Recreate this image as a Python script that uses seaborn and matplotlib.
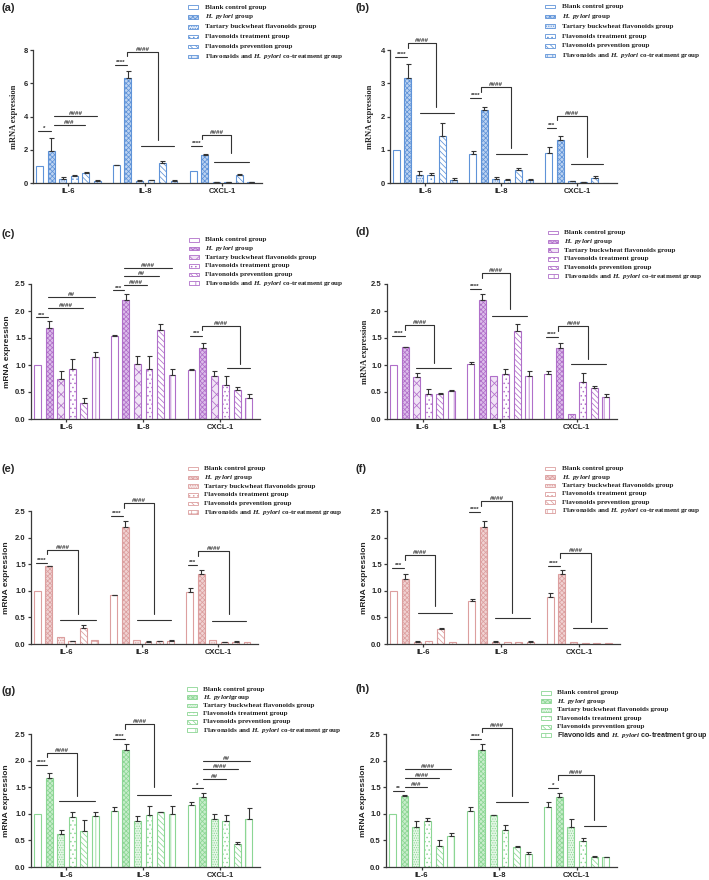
import matplotlib
matplotlib.use("Agg")
import matplotlib.pyplot as plt
from matplotlib.patches import Rectangle
import pandas as pd
import seaborn as sns

# ==============================================================================
# DATA (mean / SD, rows = gene, cols = group)
# ==============================================================================
GENES = ["IL-6", "IL-8", "CXCL-1"]
GROUPS = ["Blank control group", "H. pylori group", "Tartary buckwheat flavonoids group",
          "Flavonoids treatment group", "Flavonoids prevention group",
          "Flavonoids and H. pylori co-treatment group"]

LEGEND_LABELS = ["Blank control group", r"$\it{H.\ pylori}$ group",
                 "Tartary buckwheat flavonoids group", "Flavonoids treatment group",
                 "Flavonoids prevention group",
                 r"Flavonoids and $\it{H.\ pylori}$ co-treatment group"]
LEGEND_LABELS_G = ["Blank control group", r"$\it{H.\ pylori}$group",
                   "Tartary buckwheat flavonoids group", "Flavonoids treatment group",
                   "Flavonoids prevention group",
                   r"Flavonoids and $\it{H.\ pylori}$ co-treatment group"]

A_MEAN = [[1.00, 1.94, 0.26, 0.44, 0.58, 0.14], [1.06, 6.34, 0.14, 0.16, 1.22, 0.14], [0.74, 1.66, 0.06, 0.04, 0.46, 0.04]]
A_SD = [[0, 0.76, 0.08, 0.04, 0.10, 0.03], [0.02, 0.40, 0.03, 0.02, 0.12, 0.03], [0, 0.10, 0.02, 0.01, 0.08, 0.01]]

B_MEAN = [[1.00, 3.17, 0.25, 0.24, 1.42, 0.10], [0.88, 2.20, 0.13, 0.10, 0.40, 0.10], [0.90, 1.30, 0.05, 0.02, 0.15, 0.01]]
B_SD = [[0, 0.40, 0.12, 0.05, 0.38, 0.04], [0.07, 0.10, 0.05, 0.02, 0.04, 0.03], [0.17, 0.10, 0.02, 0.01, 0.05, 0]]

C_MEAN = [[1.00, 1.68, 0.74, 0.92, 0.29, 1.14], [1.53, 2.21, 1.01, 0.93, 1.64, 0.82], [0.90, 1.31, 0.80, 0.63, 0.54, 0.38]]
C_SD = [[0, 0.13, 0.14, 0.20, 0.10, 0.10], [0.02, 0.11, 0.15, 0.24, 0.11, 0.10], [0.02, 0.09, 0.08, 0.16, 0.06, 0.08]]

D_MEAN = [[1.00, 1.33, 0.77, 0.46, 0.46, 0.51], [1.02, 2.21, 0.79, 0.83, 1.63, 0.80], [0.84, 1.31, 0.10, 0.68, 0.58, 0.40]]
D_SD = [[0, 0.01, 0.09, 0.09, 0.03, 0.03], [0.04, 0.11, 0, 0.10, 0.12, 0.08], [0.04, 0.09, 0, 0.17, 0.04, 0.07]]

E_MEAN = [[1.00, 1.46, 0.14, 0.05, 0.31, 0.07], [0.92, 2.20, 0.07, 0.04, 0.05, 0.06], [0.98, 1.31, 0.07, 0.03, 0.04, 0.04]]
E_SD = [[0, 0.01, 0, 0.01, 0.05, 0], [0.01, 0.11, 0, 0.01, 0.01, 0.01], [0.08, 0.09, 0, 0.01, 0.01, 0]]

F_MEAN = [[1.00, 1.23, 0.04, 0.06, 0.28, 0.04], [0.81, 2.20, 0.04, 0.04, 0.04, 0.04], [0.89, 1.31, 0.04, 0.02, 0.02, 0.02]]
F_SD = [[0, 0.09, 0.01, 0, 0.03, 0], [0.03, 0.12, 0.01, 0, 0, 0.02], [0.06, 0.09, 0, 0, 0, 0]]

G_MEAN = [[1.00, 1.68, 0.62, 0.94, 0.67, 0.95], [1.06, 2.20, 0.86, 0.97, 1.03, 1.00], [1.16, 1.31, 0.90, 0.86, 0.43, 0.90]]
G_SD = [[0, 0.08, 0.08, 0.10, 0.21, 0.08], [0.06, 0.12, 0.10, 0.17, 0.01, 0.14], [0.07, 0.09, 0.10, 0.12, 0.04, 0.20]]

H_MEAN = [[1.00, 1.34, 0.76, 0.86, 0.40, 0.58], [1.06, 2.20, 0.97, 0.69, 0.38, 0.25], [1.12, 1.31, 0.76, 0.48, 0.19, 0.18]]
H_SD = [[0, 0.01, 0.10, 0.06, 0.11, 0.06], [0.06, 0.12, 0.01, 0.10, 0.01, 0.04], [0.10, 0.09, 0.14, 0.06, 0.01, 0.01]]

# ==============================================================================
# STYLE
# ==============================================================================
W, H = 709, 880
SLOT = 0.9 / 6
LINE_C = "#333333"

BLUE, PURPLE, PINK, GREEN = "#5f93d8", "#b06fc9", "#dc9f9f", "#8cd694"
TINT = {BLUE: "#bcd3f1", PURPLE: "#dcbdea", PINK: "#f0d2d2", GREEN: "#c8edcc"}
PALE = {BLUE: "#e2ecfa", PURPLE: "#f1e4f6", PINK: "#f8e9e9", GREEN: "#e5f7e7"}

DIAG = "\\\\\\\\\\\\"
HATCH_AB = ["", "xxxxxxx", ".......", "....", DIAG, "+++"]
HATCH_CD = ["", "xxxxxxx", "xxx", "....", DIAG, "||"]
HATCH_EF = ["", "xxxxxxx", ".......", "....", DIAG, "+++"]
HATCH_GH = ["", "xxxxxxx", ".......", "....", DIAG, "||"]

# annotations: ("L", gene, j0, j1, y, txt) line; ("B", gene, jL, jR, top, drop, txt); ("F", gene, j0, j1, y)
PANELS = {
    "a": dict(mean=A_MEAN, sd=A_SD, color=BLUE, hatch=HATCH_AB, ymax=8, ticks=[0, 2, 4, 6, 8], fmt="%d",
              rect=(33, 50, 262, 183), leg=(188, 205, 7, 9.9), lab=(1, 3), ylx=14, serif=True, tint6=True,
              ann=[("L", 0, -0.15, 1.0, 3.13, "*"), ("L", 0, 1.25, 3.95, 3.5, "###"),
                   ("L", 0, 1.25, 5.0, 4.05, "####"), ("L", 1, -0.15, 0.95, 7.1, "****"),
                   ("B", 1, 0.95, 3.6, 7.9, 2.6, "####"), ("F", 1, 2.1, 5.0, 2.25),
                   ("L", 2, -0.15, 0.8, 2.25, "****"), ("B", 2, 0.8, 3.3, 2.9, 1.8, "####"),
                   ("F", 2, 1.8, 4.8, 1.28)]),
    "b": dict(mean=B_MEAN, sd=B_SD, color=BLUE, hatch=HATCH_AB, ymax=4, ticks=[0, 1, 2, 3, 4], fmt="%d",
              rect=(390, 50, 617, 183), leg=(545, 562, 6.7, 9.8), lab=(356, 3), ylx=370, serif=True, tint6=True,
              ann=[("L", 0, -0.1, 0.95, 3.8, "****"), ("B", 0, 1.0, 3.5, 4.2, 2.28, "####"),
                   ("F", 0, 2.1, 5.0, 2.1), ("L", 1, -0.2, 0.7, 2.55, "****"),
                   ("B", 1, 0.77, 3.35, 2.88, 1.05, "####"), ("F", 1, 2.0, 4.8, 0.87),
                   ("L", 2, -0.2, 0.65, 1.65, "***"), ("B", 2, 0.7, 3.3, 2.02, 0.77, "####"),
                   ("F", 2, 1.9, 4.7, 0.57)]),
    "c": dict(mean=C_MEAN, sd=C_SD, color=PURPLE, hatch=HATCH_CD, ymax=2.5, ticks=[0, 0.5, 1, 1.5, 2, 2.5], fmt="%.1f",
              rect=(31, 284, 260, 419), leg=(189, 205, 240, 8.6), lab=(1, 229), ylx=8, serif=False,
              ann=[("L", 0, -0.15, 0.9, 1.88, "***"), ("L", 0, 0.95, 3.95, 2.05, "####"),
                   ("L", 0, 0.95, 5.0, 2.26, "##"), ("L", 1, -0.15, 0.86, 2.38, "***"),
                   ("L", 1, 0.86, 2.87, 2.48, "####"), ("L", 1, 0.86, 3.9, 2.64, "##"),
                   ("L", 1, 0.86, 5.0, 2.79, "####"), ("L", 2, -0.1, 0.95, 1.53, "***"),
                   ("B", 2, 0.95, 4.2, 1.73, 1.02, "####"), ("F", 2, 3.1, 5.1, 0.94)]),
    "d": dict(mean=D_MEAN, sd=D_SD, color=PURPLE, hatch=HATCH_CD, ymax=2.5, ticks=[0, 0.5, 1, 1.5, 2, 2.5], fmt="%.1f",
              rect=(387, 284, 617, 419), leg=(548, 564, 232.7, 8.7), lab=(356, 227), ylx=365, serif=True,
              ann=[("L", 0, -0.1, 0.95, 1.54, "****"), ("B", 0, 1.0, 3.5, 1.74, 1.04, "####"),
                   ("F", 0, 1.95, 5.0, 0.94), ("L", 1, -0.1, 0.85, 2.41, "****"),
                   ("B", 1, 0.95, 3.35, 2.7, 2.03, "####"), ("F", 1, 1.85, 4.85, 1.91),
                   ("L", 2, -0.15, 0.85, 1.52, "****"), ("B", 2, 0.9, 3.5, 1.72, 1.12, "####"),
                   ("F", 2, 2.0, 5.0, 1.01)]),
    "e": dict(mean=E_MEAN, sd=E_SD, color=PINK, hatch=HATCH_EF, ymax=2.5, ticks=[0, 0.5, 1, 1.5, 2, 2.5], fmt="%.1f",
              rect=(31, 511, 258, 644), leg=(188, 204, 468.7, 8.7), lab=(1, 464), ylx=7, serif=False,
              ann=[("L", 0, -0.15, 0.85, 1.53, "****"), ("B", 0, 0.85, 3.55, 1.77, 0.57, "####"),
                   ("F", 0, 2.0, 5.1, 0.45), ("L", 1, -0.2, 0.8, 2.4, "****"),
                   ("B", 1, 0.9, 3.5, 2.65, 0.57, "####"), ("F", 1, 2.05, 5.05, 0.46),
                   ("L", 2, -0.2, 0.65, 1.48, "***"), ("B", 2, 0.7, 3.45, 1.74, 0.57, "####"),
                   ("F", 2, 1.95, 4.95, 0.44)]),
    "f": dict(mean=F_MEAN, sd=F_SD, color=PINK, hatch=HATCH_EF, ymax=2.5, ticks=[0, 0.5, 1, 1.5, 2, 2.5], fmt="%.1f",
              rect=(387, 511, 620, 644), leg=(545, 562, 468.7, 8.4), lab=(356, 464), ylx=365, serif=False,
              ann=[("L", 0, -0.1, 0.9, 1.43, "***"), ("B", 0, 0.97, 3.55, 1.67, 0.72, "####"),
                   ("F", 0, 2.05, 5.0, 0.59), ("L", 1, -0.25, 0.7, 2.48, "****"),
                   ("B", 1, 0.8, 3.45, 2.68, 0.59, "####"), ("F", 1, 2.0, 4.95, 0.48),
                   ("L", 2, -0.15, 0.85, 1.46, "****"), ("B", 2, 0.86, 3.5, 1.71, 0.42, "####"),
                   ("F", 2, 2.0, 4.9, 0.31)]),
    "g": dict(mean=G_MEAN, sd=G_SD, color=GREEN, hatch=HATCH_GH, ymax=2.5, ticks=[0, 0.5, 1, 1.5, 2, 2.5], fmt="%.1f",
              rect=(31, 734, 260, 867), leg=(187, 203, 689, 8.2), lab=(1, 686), ylx=7, serif=False,
              labels=LEGEND_LABELS_G,
              ann=[("L", 0, -0.15, 0.85, 1.91, "****"), ("B", 0, 0.85, 3.4, 2.15, 1.34, "####"),
                   ("F", 0, 1.9, 5.0, 1.24), ("L", 1, -0.1, 0.95, 2.41, "****"),
                   ("B", 1, 0.95, 3.45, 2.68, 1.5, "####"), ("F", 1, 1.95, 4.95, 1.36),
                   ("L", 2, 0.1, 1.0, 1.49, "*"), ("L", 2, 1.0, 3.05, 1.66, "##"),
                   ("L", 2, 1.0, 4.05, 1.84, "####"), ("L", 2, 1.0, 5.1, 2.0, "##")]),
    "h": dict(mean=H_MEAN, sd=H_SD, color=GREEN, hatch=HATCH_GH, ymax=2.5, ticks=[0, 0.5, 1, 1.5, 2, 2.5], fmt="%.1f",
              rect=(386, 734, 617, 867), leg=(541, 557, 692.7, 8.5), lab=(356, 684), ylx=363, serif=False,
              sans_last=True,
              ann=[("L", 0, 0.0, 0.95, 1.43, "**"), ("L", 0, 1.05, 3.0, 1.51, "###"),
                   ("L", 0, 1.05, 4.0, 1.67, "####"), ("L", 0, 1.05, 5.05, 1.84, "####"),
                   ("L", 1, -0.05, 0.95, 2.4, "****"), ("B", 1, 1.0, 3.6, 2.62, 1.34, "####"),
                   ("F", 1, 2.25, 5.0, 1.23), ("L", 2, 0.0, 0.9, 1.49, "*"),
                   ("B", 2, 0.9, 3.95, 1.73, 0.89, "####"), ("F", 2, 3.15, 5.0, 0.78)]),
}

sns.set_style("ticks")
plt.rcParams['font.family'] = ['Liberation Sans', 'DejaVu Sans']
plt.rcParams['mathtext.fontset'] = 'custom'
plt.rcParams['mathtext.it'] = 'Liberation Serif:italic:bold'
plt.rcParams['mathtext.rm'] = 'Liberation Serif:bold'
plt.rcParams['hatch.linewidth'] = 0.55


def bx(g, j):
    return g + (j - 2.5) * SLOT


def make_df(mean):
    rows = []
    for j, grp in enumerate(GROUPS):
        for g, gene in enumerate(GENES):
            rows.append({"gene": gene, "group": grp, "value": mean[g][j]})
    return pd.DataFrame(rows)


fig = plt.figure(figsize=(W / 100, H / 100), dpi=100)
fig.patch.set_facecolor("white")

for key, cfg in PANELS.items():
    l, t, r, b = cfg["rect"]
    color = cfg["color"]
    faces = ["white", TINT[color], PALE[color], "white", "white",
             PALE[color] if cfg.get("tint6") else "white"]
    ax = fig.add_axes([l / W, 1 - b / H, (r - l) / W, (b - t) / H])

    df = make_df(cfg["mean"])
    sns.barplot(data=df, x="gene", y="value", hue="group", order=GENES, hue_order=GROUPS,
                palette={g: "white" for g in GROUPS}, width=0.9, gap=0.4, errorbar=None,
                legend=False, ax=ax, edgecolor=color, linewidth=0.8)

    # style bars and add upper-only SD error bars
    for bar in ax.patches:
        xc = bar.get_x() + bar.get_width() / 2
        g = int(round(xc))
        j = int(round((xc - g) / SLOT + 2.5))
        bar.set_facecolor(faces[j])
        bar.set_edgecolor(color)
        bar.set_hatch(cfg["hatch"][j])
        sd = cfg["sd"][g][j]
        if sd > 0:
            ax.errorbar(xc, bar.get_height(), yerr=[[0], [sd]], fmt="none", ecolor=LINE_C,
                        elinewidth=0.8, capsize=1.8, capthick=0.8, zorder=3)

    ax.set_xlim(-0.46, 2.52)
    ax.set_ylim(0, cfg["ymax"])
    ax.set_yticks(cfg["ticks"])
    ax.set_yticklabels([cfg["fmt"] % v for v in cfg["ticks"]])
    ax.set_xlabel("")
    for s in ["top", "right"]:
        ax.spines[s].set_visible(False)
    for s in ["left", "bottom"]:
        ax.spines[s].set_linewidth(0.9)
        ax.spines[s].set_color("#3a3a3a")
    ax.tick_params(axis="both", length=2.2, width=0.9, color="#3a3a3a", pad=1.5, labelsize=5.5)
    for lab in ax.get_xticklabels() + ax.get_yticklabels():
        lab.set_fontweight("bold")

    if cfg["serif"]:
        ax.set_ylabel("mRNA expression", fontsize=6, family="Liberation Serif", weight="bold", va="center")
    else:
        ax.set_ylabel("mRNA expression", fontsize=6, weight="bold", va="center")
    ax.yaxis.set_label_coords((cfg["ylx"] - l) / (r - l), 0.5)

    # significance marks
    leg_len = 0.035 * cfg["ymax"]
    for a in cfg["ann"]:
        kind, g = a[0], a[1]
        if kind == "L":
            x0, x1 = bx(g, a[2]), bx(g, a[3])
            ax.plot([x0, x1], [a[4], a[4]], color=LINE_C, lw=0.8, clip_on=False)
            ax.text((x0 + x1) / 2, a[4], a[5], ha="center", va="bottom", fontsize=4.5,
                    fontweight="bold", color=LINE_C, clip_on=False)
        elif kind == "B":
            xl, xr = bx(g, a[2]), bx(g, a[3])
            ax.plot([xl, xl, xr, xr], [a[4] - leg_len, a[4], a[4], a[5]], color=LINE_C, lw=0.8,
                    clip_on=False)
            ax.text((xl + xr) / 2, a[4], a[6], ha="center", va="bottom", fontsize=4.5,
                    fontweight="bold", color=LINE_C, clip_on=False)
        else:
            ax.plot([bx(g, a[2]), bx(g, a[3])], [a[4], a[4]], color=LINE_C, lw=0.8, clip_on=False)

    # panel label
    fig.text(cfg["lab"][0] / W, 1 - cfg["lab"][1] / H, "(%s)" % key, fontsize=8, fontweight="bold",
             ha="left", va="top")

    # legend
    hx, tx, y0, dy = cfg["leg"]
    labels = cfg.get("labels", LEGEND_LABELS)
    for j, label in enumerate(labels):
        yc = y0 + j * dy
        fig.patches.append(Rectangle((hx / W, 1 - (yc + 1.8) / H), 10 / W, 3.6 / H,
                                     transform=fig.transFigure, facecolor=faces[j],
                                     edgecolor=color, hatch=cfg["hatch"][j], lw=0.6))
        fam = "Liberation Sans" if (cfg.get("sans_last") and j == 5) else "Liberation Serif"
        fig.text(tx / W, 1 - yc / H, label, fontsize=5.1, family=fam, fontweight="bold",
                 ha="left", va="center", color="#222222")

fig.savefig("out.png", dpi=100, facecolor="white")
